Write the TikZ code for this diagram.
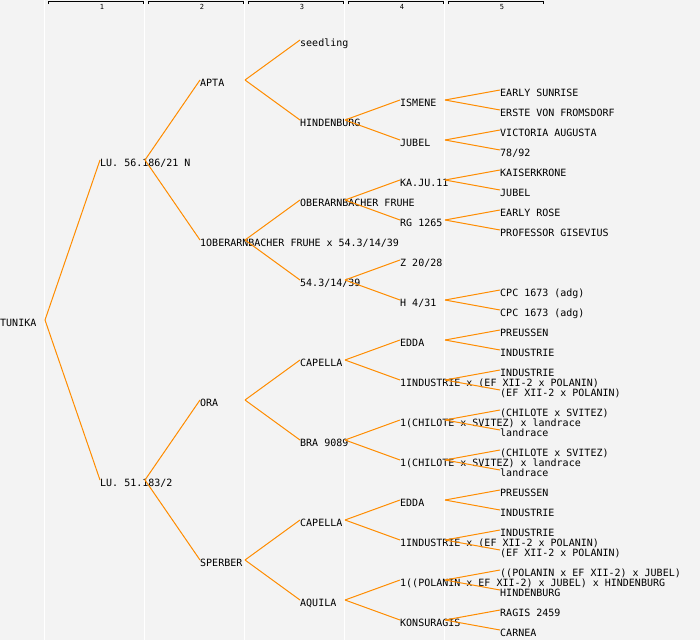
\documentclass[tikz,border=0pt]{standalone}
\usepackage{fontspec}
\setmonofont{DejaVu Sans Mono}
\definecolor{pedbg}{RGB}{243,243,243}
\definecolor{pedline}{RGB}{255,140,0}

\begin{document}
\begin{tikzpicture}[
    x=1pt, y=-1pt,
    plant/.style={anchor=west, inner sep=0pt, text height=12pt, text depth=0pt,
        font=\ttfamily\fontsize{10}{12}\selectfont},
    colnum/.style={anchor=base, inner sep=0pt, font=\ttfamily\fontsize{7}{8}\selectfont},
    link/.style={draw=pedline, line width=1pt},
    colrule/.style={draw=white, line width=1pt},
    colbracket/.style={draw=black, line width=1pt},
]

\fill[pedbg] (0,0) rectangle (700,640);
\useasboundingbox (0,0) rectangle (700,640);

% column rules and headers
\draw[colrule] (44.5,0) -- (44.5,640);
\draw[colrule] (144.5,0) -- (144.5,640);
\draw[colrule] (244.5,0) -- (244.5,640);
\draw[colrule] (344.5,0) -- (344.5,640);
\draw[colrule] (444.5,0) -- (444.5,640);

\draw[colbracket] (48,4) -- (48,1.5) -- (143,1.5) -- (143,4);
\draw[colbracket] (148,4) -- (148,1.5) -- (243,1.5) -- (243,4);
\draw[colbracket] (248,4) -- (248,1.5) -- (343,1.5) -- (343,4);
\draw[colbracket] (348,4) -- (348,1.5) -- (443,1.5) -- (443,4);
\draw[colbracket] (448,4) -- (448,1.5) -- (543,1.5) -- (543,4);

\node[colnum] (col1) at (102,9) {1};
\node[colnum] (col2) at (202,9) {2};
\node[colnum] (col3) at (302,9) {3};
\node[colnum] (col4) at (402,9) {4};
\node[colnum] (col5) at (502,9) {5};

% generation 0 and 1
\node[plant] (tunika) at (0,320) {TUNIKA};
\node[plant] (lu56) at (100,160) {LU. 56.186/21 N};
\node[plant] (lu51) at (100,480) {LU. 51.183/2};

% generation 2
\node[plant] (apta) at (200,80) {APTA};
\node[plant] (oberx) at (200,240) {1OBERARNBACHER FRUHE x 54.3/14/39};
\node[plant] (ora) at (200,400) {ORA};
\node[plant] (sperber) at (200,560) {SPERBER};

% generation 3
\node[plant] (seedling) at (300,40) {seedling};
\node[plant] (hindenburg) at (300,120) {HINDENBURG};
\node[plant] (oberfruhe) at (300,200) {OBERARNBACHER FRUHE};
\node[plant] (sel543) at (300,280) {54.3/14/39};
\node[plant] (capellaA) at (300,360) {CAPELLA};
\node[plant] (bra) at (300,440) {BRA 9089};
\node[plant] (capellaB) at (300,520) {CAPELLA};
\node[plant] (aquila) at (300,600) {AQUILA};

% generation 4
\node[plant] (ismene) at (400,100) {ISMENE};
\node[plant] (jubelA) at (400,140) {JUBEL};
\node[plant] (kaju) at (400,180) {KA.JU.11};
\node[plant] (rg) at (400,220) {RG 1265};
\node[plant] (z2028) at (400,260) {Z 20/28};
\node[plant] (h431) at (400,300) {H 4/31};
\node[plant] (eddaA) at (400,340) {EDDA};
\node[plant] (indA) at (400,380) {1INDUSTRIE x (EF XII-2 x POLANIN)};
\node[plant] (chilA) at (400,420) {1(CHILOTE x SVITEZ) x landrace};
\node[plant] (chilB) at (400,460) {1(CHILOTE x SVITEZ) x landrace};
\node[plant] (eddaB) at (400,500) {EDDA};
\node[plant] (indB) at (400,540) {1INDUSTRIE x (EF XII-2 x POLANIN)};
\node[plant] (polA) at (400,580) {1((POLANIN x EF XII-2) x JUBEL) x HINDENBURG};
\node[plant] (konsu) at (400,620) {KONSURAGIS};

% generation 5
\node[plant] (sunrise) at (500,90) {EARLY SUNRISE};
\node[plant] (erste) at (500,110) {ERSTE VON FROMSDORF};
\node[plant] (victoria) at (500,130) {VICTORIA AUGUSTA};
\node[plant] (s7892) at (500,150) {78/92};
\node[plant] (kaiser) at (500,170) {KAISERKRONE};
\node[plant] (jubelB) at (500,190) {JUBEL};
\node[plant] (earlyrose) at (500,210) {EARLY ROSE};
\node[plant] (gisevius) at (500,230) {PROFESSOR GISEVIUS};
\node[plant] (cpcA) at (500,290) {CPC 1673 (adg)};
\node[plant] (cpcB) at (500,310) {CPC 1673 (adg)};
\node[plant] (preussenA) at (500,330) {PREUSSEN};
\node[plant] (industrieA) at (500,350) {INDUSTRIE};
\node[plant] (industrieB) at (500,370) {INDUSTRIE};
\node[plant] (efA) at (500,390) {(EF XII-2 x POLANIN)};
\node[plant] (chilsvA) at (500,410) {(CHILOTE x SVITEZ)};
\node[plant] (landraceA) at (500,430) {landrace};
\node[plant] (chilsvB) at (500,450) {(CHILOTE x SVITEZ)};
\node[plant] (landraceB) at (500,470) {landrace};
\node[plant] (preussenB) at (500,490) {PREUSSEN};
\node[plant] (industrieC) at (500,510) {INDUSTRIE};
\node[plant] (industrieD) at (500,530) {INDUSTRIE};
\node[plant] (efB) at (500,550) {(EF XII-2 x POLANIN)};
\node[plant] (polB) at (500,570) {((POLANIN x EF XII-2) x JUBEL)};
\node[plant] (hindenburgB) at (500,590) {HINDENBURG};
\node[plant] (ragis) at (500,610) {RAGIS 2459};
\node[plant] (carnea) at (500,630) {CARNEA};

\path[link]
    ([xshift=45pt]tunika.west) edge (lu56.west)
    ([xshift=45pt]tunika.west) edge (lu51.west)
    ([xshift=45pt]lu56.west) edge (apta.west)
    ([xshift=45pt]lu56.west) edge (oberx.west)
    ([xshift=45pt]lu51.west) edge (ora.west)
    ([xshift=45pt]lu51.west) edge (sperber.west)
    ([xshift=45pt]apta.west) edge (seedling.west)
    ([xshift=45pt]apta.west) edge (hindenburg.west)
    ([xshift=45pt]oberx.west) edge (oberfruhe.west)
    ([xshift=45pt]oberx.west) edge (sel543.west)
    ([xshift=45pt]ora.west) edge (capellaA.west)
    ([xshift=45pt]ora.west) edge (bra.west)
    ([xshift=45pt]sperber.west) edge (capellaB.west)
    ([xshift=45pt]sperber.west) edge (aquila.west)
    ([xshift=45pt]hindenburg.west) edge (ismene.west)
    ([xshift=45pt]hindenburg.west) edge (jubelA.west)
    ([xshift=45pt]oberfruhe.west) edge (kaju.west)
    ([xshift=45pt]oberfruhe.west) edge (rg.west)
    ([xshift=45pt]sel543.west) edge (z2028.west)
    ([xshift=45pt]sel543.west) edge (h431.west)
    ([xshift=45pt]capellaA.west) edge (eddaA.west)
    ([xshift=45pt]capellaA.west) edge (indA.west)
    ([xshift=45pt]bra.west) edge (chilA.west)
    ([xshift=45pt]bra.west) edge (chilB.west)
    ([xshift=45pt]capellaB.west) edge (eddaB.west)
    ([xshift=45pt]capellaB.west) edge (indB.west)
    ([xshift=45pt]aquila.west) edge (polA.west)
    ([xshift=45pt]aquila.west) edge (konsu.west)
    ([xshift=45pt]ismene.west) edge (sunrise.west)
    ([xshift=45pt]ismene.west) edge (erste.west)
    ([xshift=45pt]jubelA.west) edge (victoria.west)
    ([xshift=45pt]jubelA.west) edge (s7892.west)
    ([xshift=45pt]kaju.west) edge (kaiser.west)
    ([xshift=45pt]kaju.west) edge (jubelB.west)
    ([xshift=45pt]rg.west) edge (earlyrose.west)
    ([xshift=45pt]rg.west) edge (gisevius.west)
    ([xshift=45pt]h431.west) edge (cpcA.west)
    ([xshift=45pt]h431.west) edge (cpcB.west)
    ([xshift=45pt]eddaA.west) edge (preussenA.west)
    ([xshift=45pt]eddaA.west) edge (industrieA.west)
    ([xshift=45pt]indA.west) edge (industrieB.west)
    ([xshift=45pt]indA.west) edge (efA.west)
    ([xshift=45pt]chilA.west) edge (chilsvA.west)
    ([xshift=45pt]chilA.west) edge (landraceA.west)
    ([xshift=45pt]chilB.west) edge (chilsvB.west)
    ([xshift=45pt]chilB.west) edge (landraceB.west)
    ([xshift=45pt]eddaB.west) edge (preussenB.west)
    ([xshift=45pt]eddaB.west) edge (industrieC.west)
    ([xshift=45pt]indB.west) edge (industrieD.west)
    ([xshift=45pt]indB.west) edge (efB.west)
    ([xshift=45pt]polA.west) edge (polB.west)
    ([xshift=45pt]polA.west) edge (hindenburgB.west)
    ([xshift=45pt]konsu.west) edge (ragis.west)
    ([xshift=45pt]konsu.west) edge (carnea.west)
;
\end{tikzpicture}
\end{document}
